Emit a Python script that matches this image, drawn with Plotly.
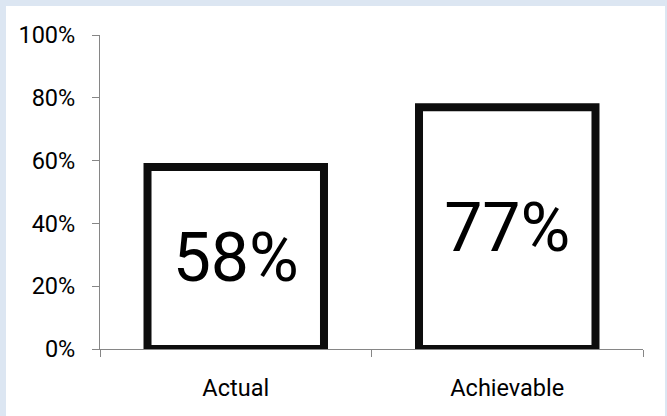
import plotly.graph_objects as go

categories = ["Actual", "Achievable"]
values = [0.58, 0.77]
labels = ["58%", "77%"]
tick_vals = [0, 0.2, 0.4, 0.6, 0.8, 1.0]
tick_text = ["0%", "20%", "40%", "60%", "80%", "100%"]

FONT = "Roboto, Liberation Sans, Arial, sans-serif"

fig = go.Figure()
fig.add_trace(go.Bar(
    x=categories, y=values, text=labels,
    textposition="inside", insidetextanchor="middle", constraintext="none",
    textfont=dict(family=FONT, size=68, color="black"),
    marker=dict(color="white", line=dict(color="#0d0d0d", width=8)),
    hoverinfo="skip",
))

W, H = 667, 416
L, R, T, B = 100, 24, 35, 67
pw, ph = W - L - R, H - T - B

def px_x(p):
    return (p - L) / pw

def px_y(p):
    return (H - B - p) / ph

fig.add_shape(type="rect", xref="paper", yref="paper",
              x0=px_x(6), x1=px_x(665), y0=px_y(430), y1=px_y(6),
              fillcolor="white", line=dict(width=0), layer="below")

fig.update_layout(
    width=W, height=H,
    margin=dict(l=L, r=R, t=T, b=B),
    paper_bgcolor="#dce6f2", plot_bgcolor="white",
    bargap=0.35, showlegend=False,
    font=dict(family=FONT, color="black"),
)
fig.update_yaxes(range=[0, 1], tickvals=tick_vals, ticktext=tick_text,
                 showgrid=False, zeroline=False, showline=True,
                 linecolor="#868686", linewidth=1,
                 ticks="outside", ticklen=7, tickcolor="#868686",
                 ticklabelstandoff=12,
                 tickfont=dict(size=23.5, family=FONT, color="black"))
fig.update_xaxes(showgrid=False, showline=True, linecolor="#868686", linewidth=1,
                 ticks="outside", ticklen=7, tickcolor="#868686", tickson="boundaries",
                 ticklabelstandoff=18,
                 tickfont=dict(size=23.5, family=FONT, color="black"))

fig.write_html("out.html")
